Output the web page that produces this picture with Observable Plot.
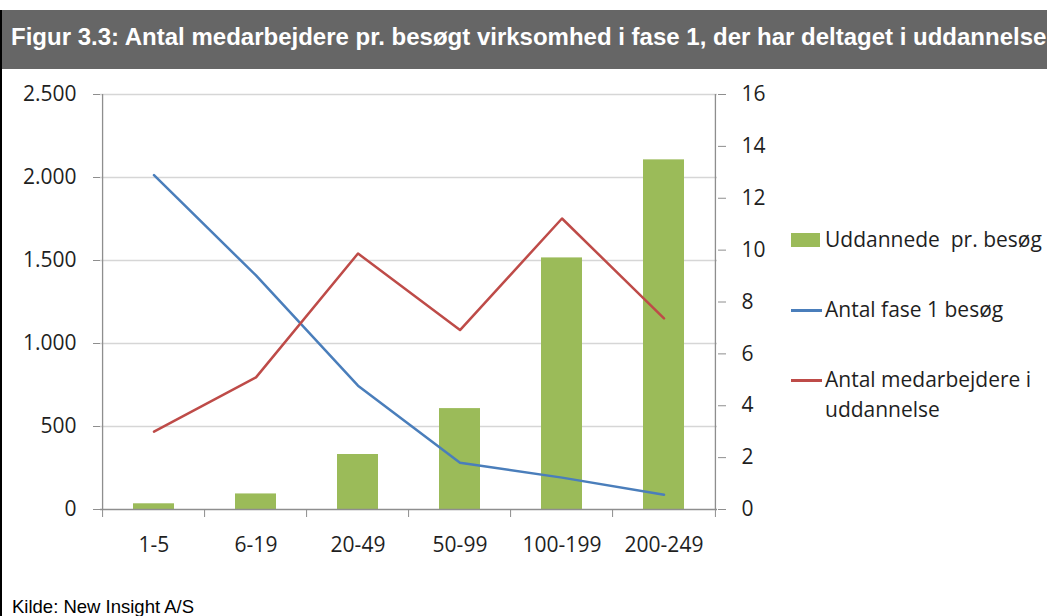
<!DOCTYPE html>
<html><head><meta charset="utf-8">
<script src="https://cdn.jsdelivr.net/npm/d3@7"></script>
<script src="https://cdn.jsdelivr.net/npm/@observablehq/plot@0.6"></script>
<style>
body{margin:0;background:#fff;}
#wrap{position:relative;width:1047px;height:616px;overflow:hidden;font-family:"Open Sans",sans-serif;}
#title{position:absolute;left:0;top:10px;width:1047px;height:59px;background:#666666;color:#fff;font:bold 24px "Liberation Sans",Arial,sans-serif;white-space:nowrap;box-sizing:border-box;padding:15px 0 0 11px;line-height:24px;overflow:hidden;}
#frame{position:absolute;left:0;top:10px;width:2px;height:606px;background:#000;}
#chart{position:absolute;left:0;top:70px;}
.leg{position:absolute;font:21px "Open Sans",sans-serif;color:#1f1f1f;white-space:pre;line-height:30px;}
.sw{position:absolute;}
#kilde{position:absolute;left:12px;top:598px;font:18.5px "Liberation Sans",Arial,sans-serif;line-height:18.5px;color:#000;white-space:nowrap;}
</style></head><body>
<div id="wrap">
  <div id="title"></div>
  <div id="frame"></div>
  <div id="chart"></div>
  <div id="legend"></div>
  <div id="kilde"></div>
</div>
<script>
const titleText = "Figur 3.3: Antal medarbejdere pr. besøgt virksomhed i fase 1, der har deltaget i uddannelse";
const sourceText = "Kilde: New Insight A/S";
const categories = ["1-5", "6-19", "20-49", "50-99", "100-199", "200-249"];
// right axis (0–16)
const uddannedePrBesoeg = [0.22, 0.6, 2.12, 3.89, 9.7, 13.48];
// left axis (0–2.500)
const antalFase1Besoeg = [2014, 1410, 746, 281, 192, 89];
const antalMedarbejdere = [469, 796, 1542, 1081, 1753, 1151];
const leftTicks = [0, 500, 1000, 1500, 2000, 2500];
const rightTicks = [0, 2, 4, 6, 8, 10, 12, 14, 16];
const seriesNames = ["Uddannede  pr. besøg", "Antal fase 1 besøg", "Antal medarbejdere i\nuddannelse"];
const seriesColors = ["#9bbb59", "#4a7ebb", "#be4b48"];

document.getElementById("title").textContent = titleText;
document.getElementById("kilde").textContent = sourceText;

const rows = categories.map((c, i) => ({cat: c, bar: uddannedePrBesoeg[i], blue: antalFase1Besoeg[i], red: antalMedarbejdere[i]}));
const ratio = 2500 / 16;
const W = 1047, H = 521, ML = 100, MR = 330, MT = 24, MB = 82;
const step = (W - ML - MR) / categories.length;
const fmt = d3.formatLocale({decimal: ",", thousands: ".", grouping: [3], currency: ["", ""]}).format(",");
const axisColor = "#8e8e8e", gridColor = "#d6d6d6", textColor = "#1f1f1f";

const chart = Plot.plot({
  width: W, height: H,
  marginLeft: ML, marginRight: MR, marginTop: MT, marginBottom: MB,
  style: {fontFamily: "Open Sans, sans-serif", fontSize: "21px", color: textColor, background: "transparent", overflow: "visible"},
  x: {domain: categories, paddingInner: 0.6, paddingOuter: 0.3, axis: null},
  y: {domain: [0, 2500], axis: null},
  marks: [
    Plot.ruleY(leftTicks.slice(1), {stroke: gridColor, strokeWidth: 1.3}),
    Plot.barY(rows, {x: "cat", y: d => d.bar * ratio, fill: seriesColors[0]}),
    Plot.line(rows, {x: "cat", y: "blue", stroke: seriesColors[1], strokeWidth: 2.5}),
    Plot.line(rows, {x: "cat", y: "red", stroke: seriesColors[2], strokeWidth: 2.5}),
    Plot.ruleY([0], {stroke: axisColor, strokeWidth: 1.3}),
    Plot.ruleX([categories[0]], {y1: 0, y2: 2500, dx: -step / 2, stroke: axisColor, strokeWidth: 1.3}),
    Plot.ruleX([categories[categories.length - 1]], {y1: 0, y2: 2500, dx: step / 2, stroke: axisColor, strokeWidth: 1.3}),
    Plot.axisX({ticks: categories, tickSize: 8, tickFormat: () => "", dx: -step / 2, stroke: axisColor, label: null}),
    Plot.axisX({ticks: [categories[categories.length - 1]], tickSize: 8, tickFormat: () => "", dx: step / 2, stroke: axisColor, label: null}),
    Plot.axisX({ticks: categories, tickSize: 0, tickPadding: 28, fill: textColor, label: null}),
    Plot.axisY({anchor: "left", ticks: leftTicks, tickFormat: fmt, tickSize: 7, tickPadding: 17, stroke: axisColor, fill: textColor, label: null}),
    Plot.axisY({anchor: "right", ticks: rightTicks.map(v => v * ratio), tickFormat: d => String(Math.round(d / ratio)), tickSize: 8, tickPadding: 16, stroke: axisColor, fill: textColor, label: null})
  ]
});
document.getElementById("chart").appendChild(chart);

// legend
const legend = document.getElementById("legend");
const legendRows = [
  {type: "box", cy: 240},
  {type: "line", cy: 310},
  {type: "line", cy: 380}
];
legendRows.forEach((r, i) => {
  const sw = document.createElement("div");
  sw.className = "sw";
  sw.style.left = "791px";
  sw.style.width = (r.type === "box" ? 29 : 31) + "px";
  if (r.type === "box") { sw.style.top = (r.cy - 7) + "px"; sw.style.height = "14px"; }
  else { sw.style.top = (r.cy - 1) + "px"; sw.style.height = "2.5px"; }
  sw.style.background = seriesColors[i];
  legend.appendChild(sw);
  const t = document.createElement("div");
  t.className = "leg";
  t.style.left = "825px";
  t.style.top = (r.cy - 16) + "px";
  t.textContent = seriesNames[i];
  legend.appendChild(t);
});
</script>
</body></html>
